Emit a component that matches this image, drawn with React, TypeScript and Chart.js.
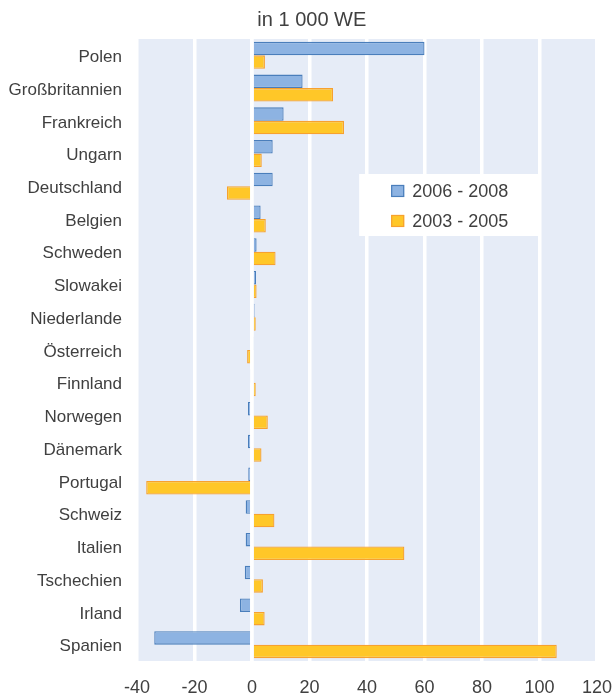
import React, { useEffect, useRef } from "react";
import { Chart, registerables } from "chart.js";

Chart.register(...registerables);

const categories = [
  "Polen", "Großbritannien", "Frankreich", "Ungarn", "Deutschland", "Belgien",
  "Schweden", "Slowakei", "Niederlande", "Österreich", "Finnland", "Norwegen",
  "Dänemark", "Portugal", "Schweiz", "Italien", "Tschechien", "Irland", "Spanien",
];

const series2006_2008 = [
  60, 17.6, 11, 7.2, 7.2, 3.0, 1.6, 1.4, 0.9, 0.7, -0.7, -1.4,
  -1.4, -1.3, -2.2, -2.2, -2.5, -4.2, -34,
];

const series2003_2005 = [
  4.5, 28.2, 32, 3.4, -8.7, 4.8, 8.2, 1.6, 1.3, -1.7, 1.3, 5.5,
  3.3, -36.8, 7.8, 53, 3.8, 4.4, 106,
];

const seriesLabels = ["2006 - 2008", "2003 - 2005"];
const xTicks = [-40, -20, 0, 20, 40, 60, 80, 100, 120];
const titleText = "in 1 000 WE";

const FONT = "'Liberation Sans', Arial, sans-serif";
const TEXT = "#404040";
const BG = "#E6ECF7";
const BLUE_FILL = "#8DB3E2";
const BLUE_LINE = "#4A7EBB";
const ORANGE_FILL = "#FFC728";
const ORANGE_LINE = "#F7A12F";

export default function App() {
  const canvasRef = useRef<HTMLCanvasElement | null>(null);

  useEffect(() => {
    const canvas = canvasRef.current;
    if (!canvas) return;

    const bgPlugin = {
      id: "plotBg",
      beforeDraw(chart: any) {
        const { ctx, chartArea } = chart;
        ctx.save();
        ctx.fillStyle = BG;
        ctx.fillRect(chartArea.left, chartArea.top, chartArea.right - chartArea.left, chartArea.bottom - chartArea.top);
        ctx.restore();
      },
    };

    const titlePlugin = {
      id: "topTitle",
      afterDraw(chart: any) {
        const { ctx } = chart;
        ctx.save();
        ctx.font = `20px ${FONT}`;
        ctx.fillStyle = TEXT;
        ctx.textAlign = "center";
        ctx.textBaseline = "middle";
        ctx.fillText(titleText, chart.width * 0.507, 20);
        ctx.restore();
      },
    };

    const zeroLinePlugin = {
      id: "zeroLine",
      afterDatasetsDraw(chart: any) {
        const { ctx, chartArea } = chart;
        const x = chart.scales.x.getPixelForValue(0);
        ctx.save();
        ctx.strokeStyle = "#FFFFFF";
        ctx.lineWidth = 3;
        ctx.beginPath();
        ctx.moveTo(x, chartArea.top);
        ctx.lineTo(x, chartArea.bottom);
        ctx.stroke();
        ctx.restore();
      },
    };

    const legendPlugin = {
      id: "innerLegend",
      afterDraw(chart: any) {
        const { ctx, chartArea } = chart;
        const w = chartArea.right - chartArea.left;
        const h = chartArea.bottom - chartArea.top;
        const bx = chartArea.left + w * 0.483;
        const by = chartArea.top + h * 0.217;
        const bw = 179;
        const bh = 62;
        ctx.save();
        ctx.fillStyle = "#FFFFFF";
        ctx.fillRect(bx, by, bw, bh);
        ctx.font = `18px ${FONT}`;
        ctx.textBaseline = "middle";
        ctx.textAlign = "left";
        chart.data.datasets.forEach((ds: any, i: number) => {
          const cy = by + 17 + i * 30;
          const sx = bx + 32;
          ctx.fillStyle = ds.backgroundColor;
          ctx.fillRect(sx, cy - 6, 13, 12);
          ctx.strokeStyle = ds.borderColor;
          ctx.lineWidth = 1.2;
          ctx.strokeRect(sx + 0.5, cy - 5.5, 12, 11);
          ctx.fillStyle = TEXT;
          ctx.fillText(ds.label, sx + 21, cy + 1);
        });
        ctx.restore();
      },
    };

    const chart = new Chart(canvas, {
      type: "bar",
      data: {
        labels: categories,
        datasets: [
          {
            label: seriesLabels[0],
            data: series2006_2008,
            backgroundColor: BLUE_FILL,
            borderColor: BLUE_LINE,
            borderWidth: 1.3,
            barPercentage: 1,
            categoryPercentage: 0.825,
          },
          {
            label: seriesLabels[1],
            data: series2003_2005,
            backgroundColor: ORANGE_FILL,
            borderColor: ORANGE_LINE,
            borderWidth: 1.3,
            barPercentage: 1,
            categoryPercentage: 0.825,
          },
        ],
      },
      options: {
        indexAxis: "y",
        animation: false,
        responsive: true,
        maintainAspectRatio: false,
        layout: { padding: { left: 0, right: 18, top: 39, bottom: 0 } },
        plugins: {
          legend: { display: false },
          tooltip: { enabled: false },
          title: { display: false },
        },
        scales: {
          x: {
            type: "linear",
            min: -40,
            max: 120,
            afterBuildTicks(scale: any) {
              scale.ticks = xTicks.map((v) => ({ value: v }));
            },
            afterFit(scale: any) {
              scale.height = 37;
              scale.paddingLeft = 0;
              scale.paddingRight = 0;
            },
            grid: {
              color: "#FFFFFF",
              lineWidth: 3.5,
              drawTicks: false,
            },
            border: { display: false },
            ticks: {
              color: TEXT,
              font: { family: FONT, size: 18 },
              padding: 16,
              maxRotation: 0,
            },
          },
          y: {
            type: "category",
            afterFit(scale: any) {
              scale.width = 137;
              scale.paddingTop = 0;
              scale.paddingBottom = 0;
            },
            grid: { display: false, drawTicks: false },
            border: { display: false },
            ticks: {
              color: TEXT,
              font: { family: FONT, size: 17 },
              padding: 15,
              labelOffset: 2,
              autoSkip: false,
            },
          },
        },
      },
      plugins: [bgPlugin, zeroLinePlugin, legendPlugin, titlePlugin],
    });

    return () => chart.destroy();
  }, []);

  return (
    <div style={{ position: "fixed", left: 0, top: 0, width: 615, height: 698, background: "#FFFFFF" }}>
      <canvas ref={canvasRef} />
    </div>
  );
}
